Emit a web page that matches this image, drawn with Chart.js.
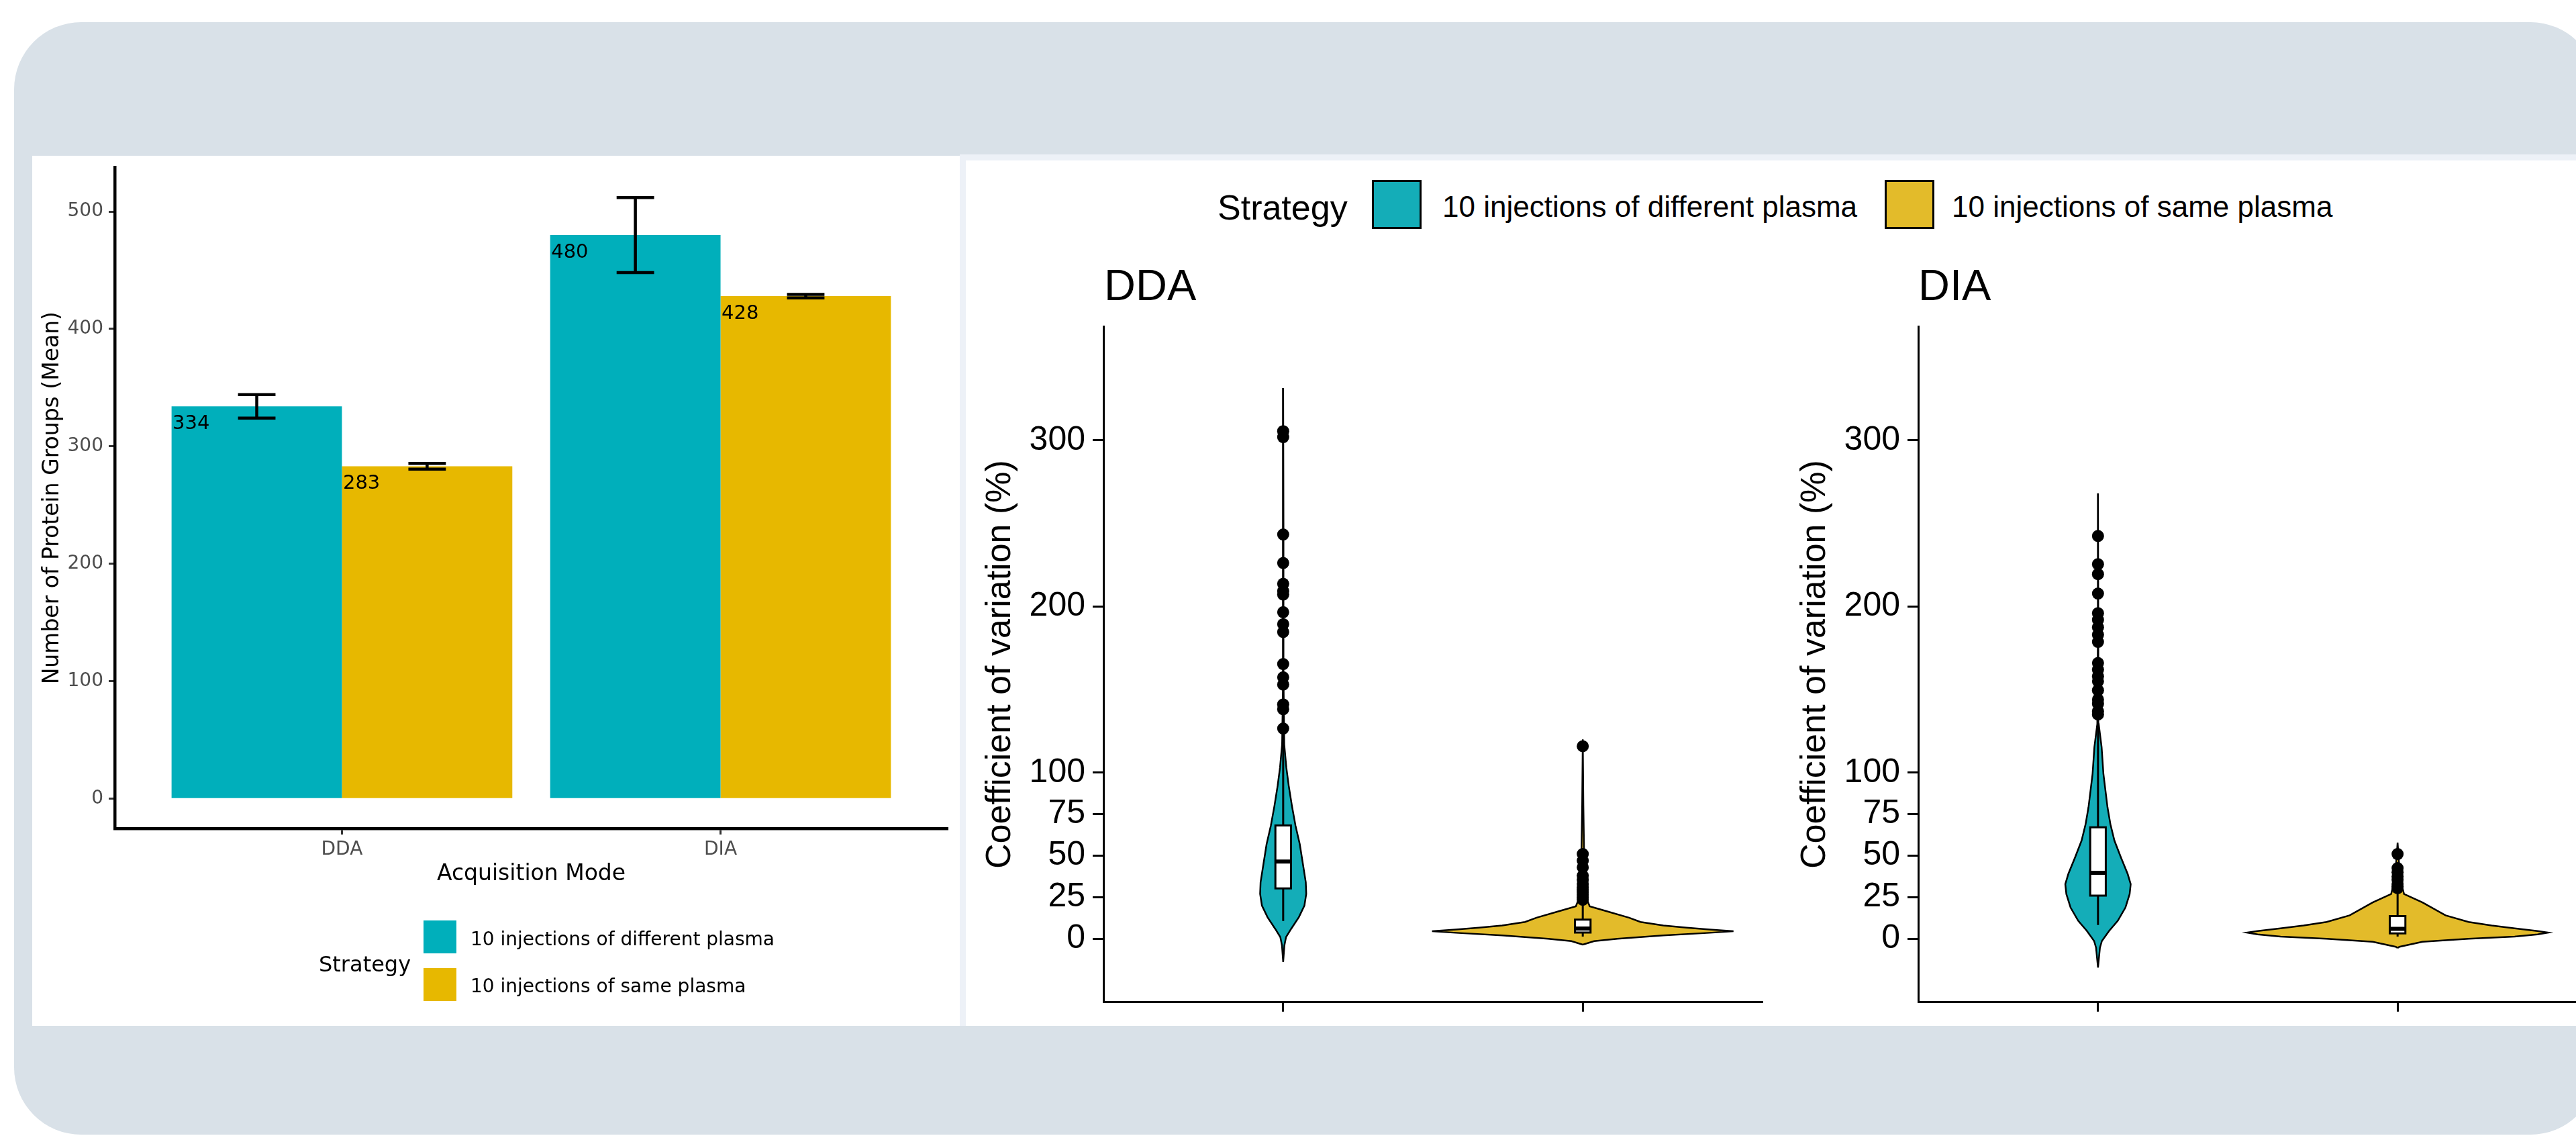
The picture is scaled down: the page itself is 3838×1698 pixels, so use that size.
<!DOCTYPE html>
<html>
<head>
  <meta charset="utf-8">
  <title>Protein groups and CV by acquisition mode</title>
  <style>
    html, body {
      margin: 0;
      overflow: hidden;
    }
    body {
      width: 3838px;
      height: 1698px;
      position: relative;
      background: #fff;
      font-family: "Liberation Sans", Arial, sans-serif;
    }
    .frame {
      position: absolute;
      left: 21px; top: 33px;
      width: 3849px; height: 1657px;
      border-radius: 100px;
      background: #d9e1e8;
    }
    .panel { position: absolute; background: #fff; }
    #barPanel { left: 48px; top: 232px; width: 1382px; height: 1296px; }
    #cvEdge { left: 1430px; top: 230px; width: 2408px; height: 1298px; background: #edf1f7; }
    #cvPanel { left: 1439px; top: 239px; width: 2399px; height: 1289px; }
    canvas { position: absolute; }
    .txt { position: absolute; white-space: nowrap; line-height: 1; color: #000; }
    .left-legend { font-family: "DejaVu Sans", sans-serif; }
    .key { position: absolute; box-sizing: border-box; }
  </style>
</head>
<body>
  <div class="frame"></div>
  <div class="panel" id="barPanel"></div>
  <div class="panel" id="cvEdge"></div>
  <div class="panel" id="cvPanel"></div>

  <canvas id="barChart" width="1382" height="1296" style="left:48px; top:232px;"></canvas>
  <canvas id="ddaChart" width="1200" height="1128" style="left:1440px; top:400px;"></canvas>
  <canvas id="diaChart" width="1200" height="1128" style="left:2654px; top:400px;"></canvas>

  <!-- legend under the bar chart -->
  <div class="txt left-legend" style="left:475px; top:1420px; font-size:32px;">Strategy</div>
  <div class="key" style="left:631px; top:1371px; width:49px; height:49px; background:#00afbb;"></div>
  <div class="key" style="left:631px; top:1442px; width:49px; height:49px; background:#e7b800;"></div>
  <div class="txt left-legend" id="legL1" style="left:701px; top:1385px; font-size:28px;"></div>
  <div class="txt left-legend" id="legL2" style="left:701px; top:1455px; font-size:28px;"></div>

  <!-- legend above the violins -->
  <div class="txt" style="left:1814px; top:283px; font-size:52px;">Strategy</div>
  <div class="key" style="left:2044px; top:268px; width:74px; height:73px; background:#14adb8; border:3px solid #000;"></div>
  <div class="txt" id="legR1" style="left:2149px; top:286px; font-size:44px;"></div>
  <div class="key" style="left:2808px; top:268px; width:74px; height:73px; background:#e3bb2a; border:3px solid #000;"></div>
  <div class="txt" id="legR2" style="left:2908px; top:286px; font-size:44px;"></div>

  <div class="txt" id="titleDDA" style="left:1645px; top:392px; font-size:65px;"></div>
  <div class="txt" id="titleDIA" style="left:2858px; top:392px; font-size:65px;"></div>

  <script src="https://cdn.jsdelivr.net/npm/chart.js"></script>
  <script>
    // ---------- data ----------
    const modes = ['DDA', 'DIA'];
    const strategies = ['10 injections of different plasma', '10 injections of same plasma'];

    // mean number of protein groups, with error bar half lengths
    const meanDifferent = [334, 480];
    const meanSame = [283, 428];
    const sdDifferent = [10, 32];
    const sdSame = [2.5, 1.5];
    const countTicks = [0, 100, 200, 300, 400, 500];

    // coefficient of variation (%)
    const cvTicks = [0, 25, 50, 75, 100, 200, 300];

    // violin outlines: CV level and relative density (1 = widest violin)
    const ddaDiffLevels  = [-14, -4, 1, 6, 13, 20, 27, 34, 45, 57, 68, 80, 92, 103, 117, 150, 250, 331.5];
    const ddaDiffDensity = [0, 0.008, 0.019, 0.053, 0.104, 0.141, 0.153, 0.150, 0.131, 0.110, 0.082, 0.058, 0.037, 0.021, 0.007, 0.003, 0.002, 0];
    const ddaSameLevels  = [-3.5, -1.4, 0, 2, 3.6, 4.6, 5.6, 6.7, 8, 10.1, 12.7, 16.8, 19.5, 25, 35, 50, 80, 120];
    const ddaSameDensity = [0, 0.076, 0.23, 0.535, 0.842, 1, 0.842, 0.69, 0.535, 0.383, 0.307, 0.151, 0.046, 0.022, 0.013, 0.009, 0.004, 0];
    const diaDiffLevels  = [-17.3, -5.3, -1.3, 4.8, 10.8, 18.8, 26.9, 32.9, 39, 49, 59.1, 69.1, 79.2, 99.3, 115.4, 129.4, 180, 268.2];
    const diaDiffDensity = [0, 0.013, 0.026, 0.074, 0.131, 0.182, 0.210, 0.217, 0.197, 0.152, 0.109, 0.082, 0.063, 0.036, 0.024, 0.0045, 0.002, 0];
    const diaSameLevels  = [-5.5, -4.8, -1.8, 0, 1.3, 2.6, 3.7, 4.7, 6.3, 8, 10.1, 14.1, 21.9, 26.9, 35, 45, 57.9];
    const diaSameDensity = [0, 0.012, 0.165, 0.471, 0.777, 0.929, 1, 0.929, 0.777, 0.624, 0.471, 0.318, 0.165, 0.043, 0.02, 0.01, 0];

    // boxplots: lower whisker, Q1, median, Q3, upper whisker
    const ddaDiffBox = [10.7, 30.3, 46.5, 68.2, 124];
    const ddaSameBox = [1.3, 3.8, 6.2, 11.5, 22.5];
    const diaDiffBox = [8.3, 26, 39.7, 67.1, 129];
    const diaSameBox = [1.3, 3.2, 6.0, 13.7, 29.5];

    // outliers
    const ddaDiffOutliers = [305.6, 302, 243.4, 226.2, 213.7, 209.3, 207.2, 196.6, 189.4, 184.7, 165.4, 157.4, 153, 141.1, 138.2, 126.6];
    const ddaSameOutliers = [115.9, 51, 47, 43, 38, 35.5, 33, 31, 29.5, 28, 26.5, 25, 23.5];
    const diaDiffOutliers = [242.5, 225.5, 219.5, 207.8, 196, 192, 187.5, 183, 178.7, 166, 162, 158, 155, 149.6, 144, 141.5, 137, 135];
    const diaSameOutliers = [51, 42.5, 40, 37.5, 35.5, 33, 31.5, 30.5];

    // ---------- styles ----------
    const barColors = ['#00afbb', '#e7b800'];
    const violinColors = ['#14adb8', '#e3bb2a'];
    const VIOLIN_HALF = 0.503;   // half width of the widest violin, in category units
    const BOX_HALF = 0.026;
    const FONT_L = 'DejaVu Sans';
    const FONT_R = 'Liberation Sans';

    document.getElementById('legL1').textContent = strategies[0];
    document.getElementById('legL2').textContent = strategies[1];
    document.getElementById('legR1').textContent = strategies[0];
    document.getElementById('legR2').textContent = strategies[1];
    document.getElementById('titleDDA').textContent = modes[0];
    document.getElementById('titleDIA').textContent = modes[1];

    // fixed axis box size, without the extra room Chart.js keeps for end labels
    function fixWidth(w) {
      return s => { s.width = w; s.paddingTop = 0; s.paddingBottom = 0; };
    }

    // ---------- bar chart ----------
    const barLabels = {
      id: 'barLabels',
      afterDatasetsDraw(chart) {
        const ctx = chart.ctx;
        ctx.save();
        ctx.font = '29px "' + FONT_L + '"';
        ctx.fillStyle = '#000';
        ctx.textAlign = 'left';
        ctx.textBaseline = 'alphabetic';
        chart.data.datasets.forEach((ds, di) => {
          chart.getDatasetMeta(di).data.forEach((bar, i) => {
            ctx.fillText(String(ds.data[i].y), bar.x - bar.width / 2 + 1.5, bar.y + 34);
          });
        });
        ctx.restore();
      }
    };

    const errorBars = {
      id: 'errorBars',
      afterDatasetsDraw(chart) {
        const ctx = chart.ctx;
        const y = chart.scales.y;
        ctx.save();
        ctx.strokeStyle = '#000';
        ctx.lineWidth = 4.5;
        chart.data.datasets.forEach((ds, di) => {
          chart.getDatasetMeta(di).data.forEach((bar, i) => {
            const mean = ds.data[i].y;
            const top = y.getPixelForValue(mean + ds.sd[i]);
            const bottom = y.getPixelForValue(mean - ds.sd[i]);
            const cap = bar.width * 0.11;
            ctx.beginPath();
            ctx.moveTo(bar.x, top); ctx.lineTo(bar.x, bottom);
            ctx.moveTo(bar.x - cap, top); ctx.lineTo(bar.x + cap, top);
            ctx.moveTo(bar.x - cap, bottom); ctx.lineTo(bar.x + cap, bottom);
            ctx.stroke();
          });
        });
        ctx.restore();
      }
    };

    new Chart(document.getElementById('barChart'), {
      type: 'bar',
      data: {
        datasets: [
          {
            label: strategies[0],
            data: modes.map((m, i) => ({ x: i + 1, y: meanDifferent[i] })),
            sd: sdDifferent,
            backgroundColor: barColors[0],
            categoryPercentage: 0.9,
            barPercentage: 1.0
          },
          {
            label: strategies[1],
            data: modes.map((m, i) => ({ x: i + 1, y: meanSame[i] })),
            sd: sdSame,
            backgroundColor: barColors[1],
            categoryPercentage: 0.9,
            barPercentage: 1.0
          }
        ]
      },
      options: {
        responsive: false,
        animation: false,
        layout: { padding: { top: 17.4, right: 18, bottom: 0, left: 0 } },
        plugins: { legend: { display: false }, tooltip: { enabled: false } },
        scales: {
          x: {
            type: 'linear',
            min: 0.4,
            max: 2.6,
            offset: false,
            afterBuildTicks: s => { s.ticks = modes.map((m, i) => ({ value: i + 1 })); },
            afterFit: s => { s.height = 294; },
            ticks: {
              autoSkip: false,
              callback: v => modes[v - 1],
              color: '#4d4d4d',
              padding: 6,
              font: { family: FONT_L, size: 28 }
            },
            grid: { offset: false, drawOnChartArea: false, tickLength: 9, tickWidth: 3, tickColor: '#333' },
            border: { color: '#000', width: 4.5 },
            title: {
              display: true,
              text: 'Acquisition Mode',
              color: '#000',
              font: { family: FONT_L, size: 33 },
              padding: { top: 0, bottom: 206 }
            }
          },
          y: {
            min: -25.6,
            max: 537.6,
            afterBuildTicks: s => { s.ticks = countTicks.map(v => ({ value: v })); },
            afterFit: fixWidth(123),
            ticks: {
              autoSkip: false,
              color: '#4d4d4d',
              padding: 8,
              font: { family: FONT_L, size: 28 }
            },
            grid: { drawOnChartArea: false, tickLength: 9, tickWidth: 3, tickColor: '#333' },
            border: { color: '#000', width: 4.5 },
            title: {
              display: true,
              text: 'Number of Protein Groups (Mean)',
              color: '#000',
              font: { family: FONT_L, size: 33 },
              padding: { top: 11, bottom: 0 }
            }
          }
        }
      },
      plugins: [barLabels, errorBars]
    });

    // ---------- violin charts ----------
    function cvDatasets(levels, density, boxes, outliers) {
      const sets = [];
      strategies.forEach((name, s) => {
        const c = s + 1;
        const right = levels[s].map((v, i) => ({ x: c + density[s][i] * VIOLIN_HALF, y: v }));
        const left = levels[s].map((v, i) => ({ x: c - density[s][i] * VIOLIN_HALF, y: v })).reverse();
        sets.push({
          label: name,
          data: right.concat(left),
          fill: 'shape',
          backgroundColor: violinColors[s],
          borderColor: '#000',
          borderWidth: 2.5,
          order: 4
        });
        const b = boxes[s];
        sets.push({
          data: [{ x: c, y: b[0] }, { x: c, y: b[4] }],
          borderColor: '#000',
          borderWidth: 3,
          order: 3
        });
        sets.push({
          data: [
            { x: c - BOX_HALF, y: b[1] }, { x: c + BOX_HALF, y: b[1] },
            { x: c + BOX_HALF, y: b[3] }, { x: c - BOX_HALF, y: b[3] },
            { x: c - BOX_HALF, y: b[1] }, { x: c + BOX_HALF, y: b[1] }
          ],
          fill: 'shape',
          backgroundColor: '#fff',
          borderColor: '#000',
          borderWidth: 3,
          order: 2
        });
        sets.push({
          data: [{ x: c - BOX_HALF, y: b[2] }, { x: c + BOX_HALF, y: b[2] }],
          borderColor: '#000',
          borderWidth: 6,
          order: 1
        });
        sets.push({
          data: outliers[s].map(v => ({ x: c, y: v })),
          showLine: false,
          pointRadius: 9,
          pointBackgroundColor: '#000',
          pointBorderWidth: 0,
          order: 0
        });
      });
      return sets;
    }

    function makeCvChart(id, levels, density, boxes, outliers) {
      return new Chart(document.getElementById(id), {
        type: 'line',
        data: { datasets: cvDatasets(levels, density, boxes, outliers) },
        options: {
          responsive: false,
          animation: false,
          layout: { padding: { top: 86.5, right: 14, bottom: 0, left: 0 } },
          elements: {
            point: { radius: 0, hoverRadius: 0 },
            line: { tension: 0 }
          },
          plugins: { legend: { display: false }, tooltip: { enabled: false } },
          scales: {
            x: {
              type: 'linear',
              min: 0.4,
              max: 2.6,
              offset: false,
              afterBuildTicks: s => { s.ticks = strategies.map((n, i) => ({ value: i + 1 })); },
              afterFit: s => { s.height = 35.2; },
              ticks: { autoSkip: false, callback: () => '', font: { family: FONT_R, size: 10 } },
              grid: { drawOnChartArea: false, tickLength: 14, tickWidth: 3, tickColor: '#000' },
              border: { color: '#000', width: 3 }
            },
            y: {
              min: -38.2,
              max: 368.5,
              afterBuildTicks: s => { s.ticks = cvTicks.map(v => ({ value: v })); },
              afterFit: fixWidth(204),
              ticks: {
                autoSkip: false,
                color: '#000',
                padding: 11,
                font: { family: FONT_R, size: 50 }
              },
              grid: { drawOnChartArea: false, tickLength: 16, tickWidth: 3, tickColor: '#000' },
              border: { color: '#000', width: 3 },
              title: {
                display: true,
                text: 'Coefficient of variation (%)',
                color: '#000',
                font: { family: FONT_R, size: 52 },
                padding: { top: 19, bottom: 0 }
              }
            }
          }
        }
      });
    }

    makeCvChart('ddaChart',
      [ddaDiffLevels, ddaSameLevels], [ddaDiffDensity, ddaSameDensity],
      [ddaDiffBox, ddaSameBox], [ddaDiffOutliers, ddaSameOutliers]);
    makeCvChart('diaChart',
      [diaDiffLevels, diaSameLevels], [diaDiffDensity, diaSameDensity],
      [diaDiffBox, diaSameBox], [diaDiffOutliers, diaSameOutliers]);
  </script>
</body>
</html>
